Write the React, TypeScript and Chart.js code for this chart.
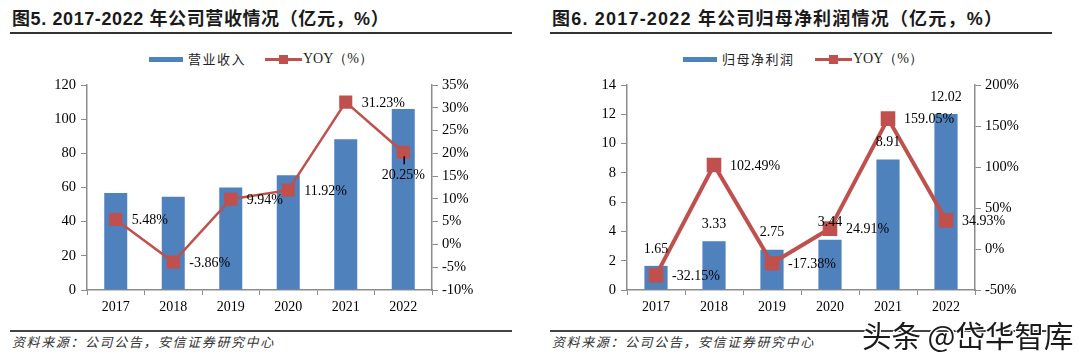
import React, { useEffect, useRef } from 'react';
import { Chart, registerables } from 'chart.js';

Chart.register(...registerables);

const years = ['2017', '2018', '2019', '2020', '2021', '2022'];
const revenue = [56.8, 54.6, 60.0, 67.2, 88.2, 106.0];
const revenueYoy = [5.48, -3.86, 9.94, 11.92, 31.23, 20.25];
const netProfit = [1.65, 3.33, 2.75, 3.44, 8.91, 12.02];
const netProfitYoy = [-32.15, 102.49, -17.38, 24.91, 159.05, 34.93];

const revenueTitle = '图5. 2017-2022 年公司营收情况（亿元，%）';
const profitTitle = '图6. 2017-2022 年公司归母净利润情况（亿元，%）';
const sourceText = '资料来源：公司公告，安信证券研究中心';

const BAR = '#4F81BD';
const LINE = '#C0504D';
const AXIS = '#8C8C8C';
const SERIF = '"Liberation Serif", "Times New Roman", serif';
const CJK = '"Noto Sans CJK SC", sans-serif';

const labelPlugin = {
  id: 'valueLabels',
  afterDatasetsDraw(chart: any, _args: any, opts: any) {
    const ctx = chart.ctx;
    ctx.save();
    ctx.font = '14px ' + SERIF;
    ctx.fillStyle = '#000';
    if (opts.showBar) {
      const meta = chart.getDatasetMeta(1);
      const ds = chart.data.datasets[1].data;
      meta.data.forEach((el: any, i: number) => {
        ctx.textAlign = 'center';
        ctx.textBaseline = 'middle';
        ctx.fillText(ds[i].toFixed(2), el.x, el.y - 17);
      });
    }
    const lmeta = chart.getDatasetMeta(0);
    const lds = chart.data.datasets[0].data;
    lmeta.data.forEach((el: any, i: number) => {
      const pos = opts.linePos[i];
      const txt = lds[i].toFixed(2) + '%';
      if (pos === 'b') {
        ctx.textAlign = 'center';
        ctx.textBaseline = 'middle';
        ctx.fillText(txt, el.x, el.y + 23);
        ctx.strokeStyle = '#000';
        ctx.lineWidth = 1.5;
        ctx.beginPath();
        ctx.moveTo(el.x + 1, el.y + 4);
        ctx.lineTo(el.x + 1, el.y + 12);
        ctx.stroke();
      } else {
        ctx.textAlign = 'left';
        ctx.textBaseline = 'middle';
        ctx.fillText(txt, el.x + 16, el.y + 1);
      }
    });
    ctx.restore();
  },
};

type PanelProps = {
  left: number;
  bars: number[];
  yoy: number[];
  yMax: number;
  yStep: number;
  pMin: number;
  pMax: number;
  pStep: number;
  lineWidth: number;
  rightWidth: number;
  showBar: boolean;
  linePos: string[];
  barName: string;
};

function ChartPanel(p: PanelProps) {
  const ref = useRef<HTMLCanvasElement | null>(null);
  useEffect(() => {
    if (!ref.current) return;
    const tickFont = { family: SERIF, size: 14.5 };
    const chart = new Chart(ref.current, {
      type: 'bar',
      data: {
        labels: years,
        datasets: [
          {
            type: 'line',
            label: 'YOY（%）',
            data: p.yoy,
            yAxisID: 'y1',
            borderColor: LINE,
            backgroundColor: LINE,
            borderWidth: p.lineWidth,
            pointStyle: 'rect',
            pointRadius: 7.5,
            pointBackgroundColor: LINE,
            pointBorderColor: LINE,
            tension: 0,
          } as any,
          {
            type: 'bar',
            label: p.barName,
            data: p.bars,
            yAxisID: 'y',
            backgroundColor: BAR,
            barPercentage: 0.4,
            categoryPercentage: 1,
          },
        ],
      },
      options: {
        animation: false,
        responsive: false,
        maintainAspectRatio: false,
        layout: { padding: { top: 85, bottom: 42, left: 0, right: 0 } },
        plugins: {
          legend: { display: false },
          tooltip: { enabled: false },
          valueLabels: { showBar: p.showBar, linePos: p.linePos },
        } as any,
        scales: {
          x: {
            grid: { offset: true, drawOnChartArea: false, tickLength: 5, color: AXIS },
            border: { color: AXIS, width: 1.5 },
            ticks: { font: { family: SERIF, size: 14 }, color: '#000', padding: 4 },
            afterFit: (s: any) => { s.height = 30; },
          },
          y: {
            position: 'left',
            min: 0,
            max: p.yMax,
            grid: { drawOnChartArea: false, tickLength: 6, color: AXIS },
            border: { color: AXIS, width: 1.5 },
            ticks: { stepSize: p.yStep, font: tickFont, color: '#000', padding: 5 },
            afterFit: (s: any) => { s.width = 87; },
          },
          y1: {
            position: 'right',
            min: p.pMin,
            max: p.pMax,
            grid: { drawOnChartArea: false, tickLength: 6, color: AXIS },
            border: { color: AXIS, width: 1.5 },
            ticks: {
              stepSize: p.pStep,
              font: tickFont,
              color: '#000',
              padding: 4,
              callback: (v: any) => v + '%',
            },
            afterFit: (s: any) => { s.width = p.rightWidth; },
          },
        },
      },
      plugins: [labelPlugin],
    });
    return () => chart.destroy();
  }, []);
  return (
    <canvas
      ref={ref}
      width={540}
      height={362}
      style={{ position: 'absolute', left: p.left, top: 0, width: 540, height: 362 }}
    />
  );
}

function Header(props: { left: number; title: string; barName: string; barLeft: number; lineLeft: number; spacing: number }) {
  const { left, title, barName, barLeft, lineLeft, spacing } = props;
  return (
    <>
      <div
        style={{
          position: 'absolute',
          left: left + 12,
          top: 7,
          fontFamily: '"Liberation Sans", ' + CJK,
          fontWeight: 'bold',
          fontSize: 18,
          lineHeight: '24px',
          letterSpacing: spacing,
          color: '#1a1a1a',
          whiteSpace: 'nowrap',
        }}
      >
        {title}
      </div>
      <div style={{ position: 'absolute', left: left + 10, top: 32, width: 502, height: 2, background: '#333' }} />
      <div style={{ position: 'absolute', left: barLeft, top: 57, width: 34, height: 5, background: BAR }} />
      <div
        style={{
          position: 'absolute',
          left: barLeft + 39,
          top: 50,
          fontFamily: CJK,
          fontSize: 13,
          lineHeight: '18px',
          letterSpacing: 1.5,
          color: '#222',
          whiteSpace: 'nowrap',
        }}
      >
        {barName}
      </div>
      <div style={{ position: 'absolute', left: lineLeft, top: 58, width: 37, height: 3, background: LINE }} />
      <div style={{ position: 'absolute', left: lineLeft + 14, top: 55, width: 9, height: 9, background: LINE }} />
      <div
        style={{
          position: 'absolute',
          left: lineLeft + 38,
          top: 50,
          fontFamily: SERIF,
          fontSize: 14,
          lineHeight: '18px',
          color: '#222',
          whiteSpace: 'nowrap',
        }}
      >
        YOY（%）
      </div>
      <div style={{ position: 'absolute', left: left + 10, top: 330, width: 502, height: 2, background: '#444' }} />
      <div
        style={{
          position: 'absolute',
          left: left + 12,
          top: 333,
          fontFamily: CJK,
          fontStyle: 'italic',
          fontSize: 13,
          lineHeight: '18px',
          letterSpacing: 1.6,
          color: '#333',
          whiteSpace: 'nowrap',
        }}
      >
        {sourceText}
      </div>
    </>
  );
}

export default function App() {
  return (
    <div style={{ position: 'absolute', left: 0, top: 0, width: 1080, height: 362, background: '#fff', overflow: 'hidden' }}>
      <Header left={0} title={revenueTitle} barName="营业收入" barLeft={149} lineLeft={265} spacing={0.6} />
      <Header left={540} title={profitTitle} barName="归母净利润" barLeft={683} lineLeft={815} spacing={1.2} />
      <ChartPanel
        left={0}
        bars={revenue}
        yoy={revenueYoy}
        yMax={120}
        yStep={20}
        pMin={-10}
        pMax={35}
        pStep={5}
        lineWidth={2.5}
        rightWidth={108}
        showBar={false}
        linePos={['r', 'r', 'r', 'r', 'r', 'b']}
        barName="营业收入"
      />
      <ChartPanel
        left={540}
        bars={netProfit}
        yoy={netProfitYoy}
        yMax={14}
        yStep={2}
        pMin={-50}
        pMax={200}
        pStep={50}
        lineWidth={4}
        rightWidth={105}
        showBar={true}
        linePos={['r', 'r', 'r', 'r', 'r', 'r']}
        barName="归母净利润"
      />
      <div
        style={{
          position: 'absolute',
          left: 862,
          top: 315,
          fontFamily: CJK,
          fontSize: 29.5,
          lineHeight: '38px',
          color: '#1a1a1a',
          whiteSpace: 'nowrap',
          textShadow: '1px 1px 0 #fff, -1px -1px 0 #fff, 1px -1px 0 #fff, -1px 1px 0 #fff',
        }}
      >
        头条 @岱华智库
      </div>
    </div>
  );
}
